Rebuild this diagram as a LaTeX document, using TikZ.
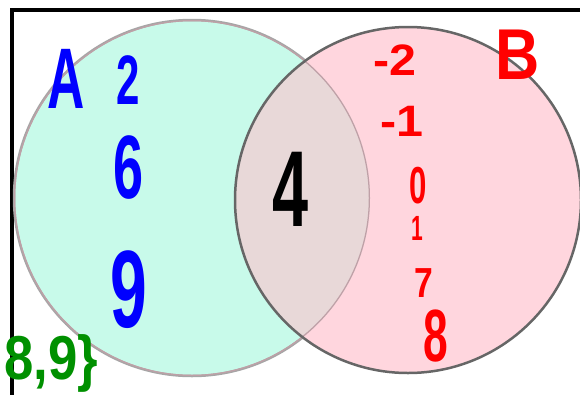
\documentclass[tikz,border=0pt]{standalone}
\usepackage{fontspec}
\setmainfont{Liberation Sans}
\usepackage{graphicx}

\definecolor{mint}{HTML}{C8FAEA}
\definecolor{rose}{HTML}{FFD6DE}
\definecolor{both}{HTML}{E8D8D8}
\definecolor{penblue}{HTML}{0000FF}
\definecolor{penred}{HTML}{FF0000}
\definecolor{pengreen}{HTML}{009000}

\newcommand{\slim}[1]{\scalebox{0.6}[1]{#1}}

\tikzset{
  hand/.style={inner sep=0pt, font=\fontsize{#1}{#1}\selectfont\bfseries},
}

\begin{document}
\begin{tikzpicture}[x=1pt,y=-1pt]

\useasboundingbox (0,0) rectangle (580,394);

% universal set (frame)
\draw[line width=4pt] (12,396) -- (12,10) -- (582,10);

% circles
\fill[mint] (192,198) circle (178);
\draw[gray!70,line width=2.5pt] (192,198) circle (178);
\fill[rose] (408,200) circle (173);
\begin{scope}
  \clip (192,198) circle (178);
  \fill[both] (408,200) circle (173);
  \draw[black!25!rose,line width=2.5pt] (192,198) circle (178);
\end{scope}
\draw[black!60,line width=2.5pt] (408,200) circle (173);

% set names
\node[hand=86,penblue] (nameA) at (66,79) {\slim{A}};
\node[hand=72,penred] (nameB) at (518,55) {\scalebox{0.85}[1]{B}};

% only in A
\node[hand=70,penblue] (a2) at (128,80) {\slim{2}};
\node[hand=90,penblue] (a6) at (129,168) {\slim{6}};
\node[hand=110,penblue] (a9) at (129,290) {\slim{9}};

% in both
\node[hand=108,black] (ab4) at (291,189) {\slim{4}};

% only in B
\node[hand=44,penred] (bm2) at (395,60) {\scalebox{1.1}[1]{-2}};
\node[hand=44,penred] (bm1) at (402,121) {\scalebox{1.1}[1]{-1}};
\node[hand=52,penred] (b0) at (418,186) {\slim{0}};
\node[hand=35,penred] (b1) at (417,228) {\slim{1}};
\node[hand=42,penred] (b7) at (424,283) {\scalebox{0.8}[1]{7}};
\node[hand=74,penred] (b8) at (436,336) {\slim{8}};

% outside
\node[hand=62,pengreen,anchor=base west] (rest) at (4,379) {\scalebox{0.85}[1]{8,9\}}};

\end{tikzpicture}
\end{document}
